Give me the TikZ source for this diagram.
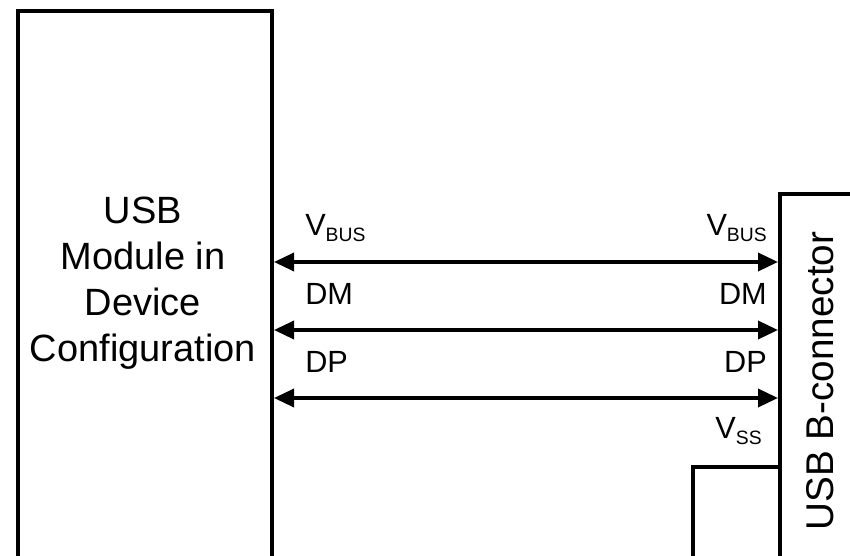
\documentclass[tikz,border=0pt]{standalone}
\usepackage{fontspec}
\setmainfont{Liberation Sans}
\usetikzlibrary{arrows.meta, positioning}
\newcommand{\vsub}[2]{#1\raisebox{-4.5pt}{\fontsize{14.5}{15}\selectfont #2}}

\begin{document}
\begin{tikzpicture}[x=0.75pt, y=-0.75pt,
  box/.style={draw, line width=3pt, inner sep=0pt, anchor=north west},
  sigline/.style={line width=2.6pt, {Triangle[length=15pt,width=13.5pt]}-{Triangle[length=15pt,width=13.5pt]}},
  wire/.style={line width=2.3pt},
  lbl/.style={font=\fontsize{23}{27}\selectfont, inner sep=0pt}]
\useasboundingbox (0,0) rectangle (850,556);
\clip (0,0) rectangle (850,556);
\node[box, minimum width=190.5pt, minimum height=411pt] (module) at (16,9) {};
\node[box, minimum width=75pt, minimum height=285pt] (conn) at (778,192) {};
\node[align=center, font=\fontsize{28.5}{34.5}\selectfont] (modtext) at (143,283)
  {USB\\Module in\\Device\\Configuration};
\node[rotate=90, font=\fontsize{29}{34}\selectfont] (conntext) at (820,381) {USB B-connector};
\foreach \y/\lab in {262/\vsub{V}{BUS}, 330/DM, 398/DP}{
  \draw[sigline] (module.east |- 0,\y) -- (conn.west |- 0,\y);
  \node[lbl, anchor=base west] at (305,\y-26) {\lab};
  \node[lbl, anchor=base east] at (767,\y-26) {\lab};
}
\node[lbl, anchor=base east] (vss) at (762,438) {\vsub{V}{SS}};
\coordinate (gnd) at (693,560);
\coordinate (gndL) at (672,557.2);
\coordinate (gndR) at (718,557.2);
\draw[wire] (conn.west |- 0,467) -| (gnd);
\draw[wire, black!60] (gndL) -- (gndR);
\end{tikzpicture}
\end{document}
